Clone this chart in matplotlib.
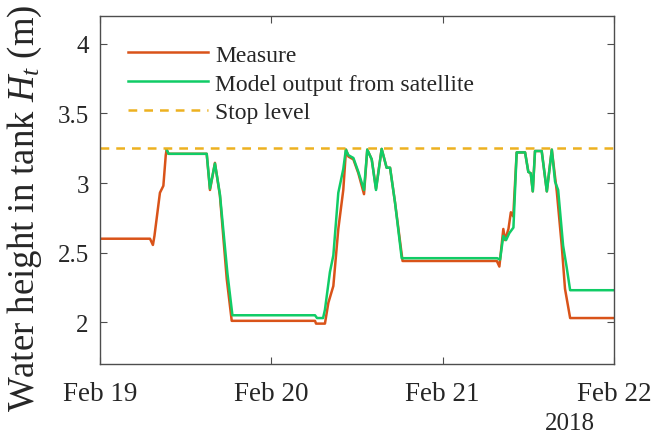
import matplotlib
matplotlib.use('Agg')
import matplotlib.pyplot as plt
import matplotlib.dates as mdates
import numpy as np
import pandas as pd

# days since 2018-02-19 00:00, water height (m)
measure_days = [0.000, 0.292, 0.309, 0.318, 0.350, 0.370, 0.384, 0.389, 0.400,
                0.623, 0.642, 0.671, 0.700, 0.740, 0.769,
                1.255, 1.261, 1.313, 1.333, 1.362, 1.391, 1.420, 1.436,
                1.450, 1.479, 1.508, 1.541, 1.560, 1.586, 1.611, 1.644,
                1.673, 1.693, 1.722, 1.766,
                2.316, 2.331, 2.354, 2.364, 2.384, 2.398, 2.412, 2.432,
                2.481, 2.500, 2.514, 2.526, 2.539, 2.578, 2.608, 2.637,
                2.666, 2.695, 2.714, 2.744, 3.000]
measure_h = [2.60, 2.60, 2.555, 2.62, 2.93, 2.98, 3.20, 3.24, 3.21,
             3.21, 2.95, 3.145, 2.91, 2.31, 2.01,
             2.01, 1.99, 1.99, 2.14, 2.26, 2.67, 2.95, 3.24,
             3.19, 3.17, 3.07, 2.92, 3.24, 3.17, 2.96, 3.245,
             3.11, 3.11, 2.86, 2.44,
             2.44, 2.40, 2.67, 2.59, 2.67, 2.79, 2.76, 3.22,
             3.22, 3.08, 3.07, 2.94, 3.23, 3.23, 2.94, 3.24,
             2.94, 2.55, 2.24, 2.03, 2.03]

model_days = [0.389, 0.400, 0.623, 0.642, 0.671, 0.700, 0.744, 0.773,
              1.255, 1.267, 1.302, 1.313, 1.342, 1.362, 1.391, 1.420, 1.435,
              1.450, 1.479, 1.508, 1.541, 1.560, 1.586, 1.611, 1.644,
              1.673, 1.693, 1.722, 1.761,
              2.318, 2.335, 2.354, 2.370, 2.389, 2.413, 2.432,
              2.481, 2.500, 2.514, 2.526, 2.539, 2.578, 2.608, 2.637,
              2.656, 2.674, 2.703, 2.723, 2.744, 3.000]
model_h = [3.24, 3.21, 3.21, 2.96, 3.14, 2.92, 2.35, 2.05,
           2.05, 2.03, 2.03, 2.09, 2.36, 2.48, 2.93, 3.10, 3.24,
           3.20, 3.18, 3.08, 2.95, 3.24, 3.17, 2.95, 3.245,
           3.11, 3.11, 2.86, 2.46,
           2.46, 2.45, 2.62, 2.59, 2.64, 2.68, 3.22,
           3.22, 3.08, 3.07, 2.94, 3.23, 3.23, 2.94, 3.24,
           3.01, 2.95, 2.55, 2.40, 2.23, 2.23]

stop_level = 3.25
start = pd.Timestamp('2018-02-19')
end = pd.Timestamp('2018-02-22')

t_meas = start + pd.to_timedelta(measure_days, unit='D')
t_model = start + pd.to_timedelta(model_days, unit='D')

plt.rcParams['font.family'] = ['Liberation Serif', 'DejaVu Serif']
plt.rcParams['mathtext.fontset'] = 'custom'
plt.rcParams['mathtext.rm'] = 'Liberation Serif'
plt.rcParams['mathtext.it'] = 'Liberation Serif:italic'

fig = plt.figure(figsize=(6.62, 4.39), dpi=100)
ax = fig.add_axes([0.151, 0.1686, 0.7765, 0.7927])

ax.plot(t_meas, measure_h, color='#D95319', lw=1.8, label='Measure')
ax.plot(t_model, model_h, color='#10CC66', lw=1.8, label='Model output from satellite')
ax.plot([start, end], [stop_level, stop_level], color='#EDB120', lw=1.8,
        ls=(0, (3.5, 2.8)), label='Stop level')

ax.set_xlim(start, end)
ax.set_ylim(1.7, 4.2)
ax.set_yticks([2, 2.5, 3, 3.5, 4])
ax.set_yticklabels(['2', '2.5', '3', '3.5', '4'])
ax.xaxis.set_major_locator(mdates.DayLocator())
ax.xaxis.set_major_formatter(mdates.DateFormatter('%b %d'))

for s in ax.spines.values():
    s.set_color('#4d4d4d')
    s.set_linewidth(1.0)
ax.tick_params(direction='in', length=5, width=0.8, color='#4d4d4d',
               labelsize=18, labelcolor='#262626', top=True, right=True, pad=8)
ax.tick_params(axis='x', pad=12, labelsize=19.5)

ax.set_ylabel('Water height in tank $H_t$ (m)', fontsize=26.5, color='#262626')
ax.yaxis.label.set_va('center')
ax.yaxis.label.set_ha('center')
ax.yaxis.set_label_coords(-0.146, 0.45)
fig.text(0.861, 0.034, '2018', fontsize=18, color='#262626', ha='center', va='center')

leg = ax.legend(loc='upper left', bbox_to_anchor=(0.013, 0.98), frameon=False,
                fontsize=17, handlelength=3.4, handletextpad=0.3, labelspacing=0.31)
for txt in leg.get_texts():
    txt.set_color('#262626')

fig.savefig('out.png', dpi=100)
